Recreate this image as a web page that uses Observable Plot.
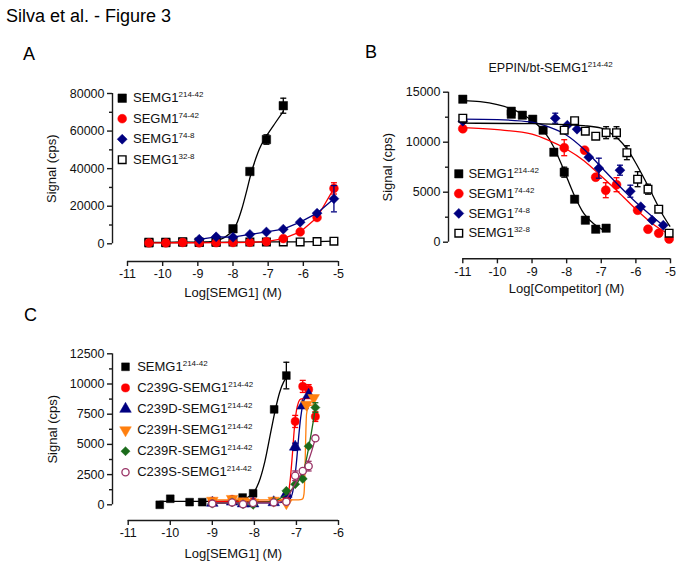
<!DOCTYPE html>
<html><head><meta charset="utf-8">
<script src="https://cdn.jsdelivr.net/npm/d3@7"></script>
<script src="https://cdn.jsdelivr.net/npm/@observablehq/plot@0.6"></script>
<style>
body{margin:0;background:#fff;font-family:'Liberation Sans',Arial,sans-serif;color:#000;}
#fig{position:relative;width:683px;height:566px;overflow:hidden;background:#fff;}
.panel{position:absolute;}
.lbl{position:absolute;font-size:18px;line-height:18px;white-space:nowrap;}
</style></head><body>
<div id="fig">
  <div class="lbl" style="left:6px;top:7px;">Silva et al. - Figure 3</div>
  <div class="lbl" style="left:23px;top:45px;">A</div>
  <div class="lbl" style="left:365px;top:43px;">B</div>
  <div class="lbl" style="left:24px;top:306px;">C</div>
  <div class="panel" id="pA" style="left:0px;top:60px;"></div>
  <div class="panel" id="pB" style="left:340px;top:40px;"></div>
  <div class="panel" id="pC" style="left:0px;top:330px;"></div>
</div>
<script>
// ================= DATA =================
// ---- Panel A : binding, Log[SEMG1] (M) vs Signal (cps)
const aX = [-10.39, -9.91, -9.43, -8.96, -8.48, -8.0, -7.52, -7.05, -6.57, -6.09, -5.61, -5.13];
const aSemg1_214_42 = [500, 600, 1000, 800, 1000, 8000, 38500, 55500, 73500];
const aSemg1_214_42Err = [0, 0, 0, 0, 0, 0, 1500, 2500, 4000];
const aSegm1_74_42 = [500, 500, 700, 500, 600, 700, 800, 1200, 2800, 6300, 14000, 29500];
const aSegm1_74_42Err = [0, 0, 0, 0, 0, 0, 0, 0, 0, 0, 0, 3000];
const aSemg1_74_8X = [-8.96, -8.48, -8.0, -7.52, -7.05, -6.57, -6.09, -5.61, -5.13];
const aSemg1_74_8 = [2400, 3700, 3500, 5000, 6300, 7800, 11500, 16300, 24000];
const aSemg1_74_8Err = [0, 0, 0, 0, 0, 0, 0, 0, 7000];
const aSemg1_32_8 = [800, 800, 1000, 800, 800, 900, 900, 1000, 1000, 1000, 1200, 1400];
const aFitX = [-10.39, -9.5, -9.0, -8.75, -8.5, -8.25, -8.1, -8.0, -7.9, -7.75, -7.6, -7.5, -7.35, -7.25, -7.1, -7.0, -6.8, -6.57];
const aFitSemg1_214_42 = [600, 650, 750, 1000, 1600, 3300, 5300, 7300, 10500, 18500, 29000, 36500, 45500, 50500, 55800, 58800, 64300, 70500];
const aTicksX = [-11, -10, -9, -8, -7, -6, -5];
const aTicksY = [0, 20000, 40000, 60000, 80000];
const aMinorY = [10000, 30000, 50000, 70000];

// ---- Panel B : competition, Log[Competitor] (M) vs Signal (cps)
const bSemg1_214_42X = [-11, -9.6, -9.6, -9.28, -8.98, -8.68, -8.37, -8.07, -7.77, -7.46, -7.16, -6.86];
const bSemg1_214_42 = [14300, 13100, 12800, 12700, 12300, 11200, 9000, 7000, 4300, 2200, 1300, 1400];
const bSemg1_214_42Err = [0, 0, 0, 0, 0, 0, 0, 500, 0, 0, 0, 0];
const bSegm1_74_42X = [-11, -8.07, -7.48, -7.16, -6.87, -6.56, -5.95, -5.65, -5.34, -5.04];
const bSegm1_74_42 = [11350, 9450, 9200, 6500, 5200, 5750, 3200, 1300, 900, 320];
const bSegm1_74_42Err = [0, 800, 0, 0, 750, 700, 0, 0, 0, 0];
const bSemg1_74_8X = [-11, -8.33, -7.98, -7.7, -7.36, -7.07, -6.46, -6.16, -5.86, -5.53, -5.21];
const bSemg1_74_8 = [12100, 12400, 11700, 11300, 8500, 7400, 7200, 5100, 3550, 2200, 1700];
const bSemg1_74_8Err = [0, 500, 0, 0, 0, 1000, 500, 600, 0, 0, 0];
const bSemg1_32_8X = [-11, -8.07, -7.77, -7.46, -7.16, -6.86, -6.56, -6.26, -5.95, -5.65, -5.34, -5.04];
const bSemg1_32_8 = [12400, 11200, 12150, 11100, 10600, 10950, 10950, 8950, 6300, 5300, 3300, 900];
const bSemg1_32_8Err = [0, 0, 0, 0, 0, 600, 600, 700, 750, 500, 0, 0];
const bFit214X = [-11, -10.5, -10, -9.5, -9.14, -8.9, -8.66, -8.37, -8.08, -7.8, -7.5, -7.22, -6.9];
const bFit214 = [14150, 14050, 13750, 13200, 12500, 11900, 11100, 9500, 7200, 4850, 2850, 1850, 1150];
const bFit7442X = [-11, -10, -9, -8.5, -8, -7.5, -7, -6.5, -6, -5.5, -5.05];
const bFit7442 = [11450, 11250, 10800, 10150, 9300, 8150, 6600, 5000, 3300, 1800, 800];
const bFit748X = [-11, -10, -9, -8.5, -8, -7.5, -7, -6.5, -6, -5.5, -5.15];
const bFit748 = [12300, 12250, 12000, 11500, 10700, 9300, 7500, 5700, 4000, 2500, 1500];
const bFit328X = [-11, -9, -8, -7.5, -7, -6.75, -6.5, -6.25, -6, -5.75, -5.5, -5.25, -5.02];
const bFit328 = [11900, 11850, 11750, 11650, 11400, 10950, 10300, 9300, 7900, 6300, 4600, 2900, 1600];
const bTicksX = [-11, -10, -9, -8, -7, -6, -5];
const bTicksY = [0, 5000, 10000, 15000];
const bMinorY = [2500, 7500, 12500];

// ---- Panel C : mutants, Log[SEMG1] (M) vs Signal (cps)
const cSemg1X = [-10.25, -10.0, -9.54, -9.24, -8.28, -8.03, -7.53, -7.24];
const cSemg1 = [0, 500, 220, 220, 600, 950, 7900, 10700];
const cSemg1Err = [0, 0, 0, 0, 0, 0, 0, 1100];
const cMutX = [-9.0, -8.53, -8.27, -8.03, -7.54, -7.24, -7.03, -6.85, -6.71, -6.55];
const cC239G = [300, 450, 200, 250, 300, 700, 6900, 9800, 9550, 7300];
const cC239GErr = [0, 150, 0, 0, 0, 0, 500, 500, 400, 400];
const cC239D = [150, 250, 100, 100, 200, 900, 4800, 8200, 9100];
const cC239DErr = [0, 0, 0, 0, 0, 0, 300, 0, 0];
const cC239HX = [-9.0, -8.53, -8.27, -8.03, -7.54, -7.24, -6.76, -6.59];
const cC239H = [350, 500, 300, 200, 350, 150, 8300, 8850];
const cC239HErr = [0, 0, 0, 0, 0, 0, 0, 0];
const cC239R = [100, 200, 50, 0, 250, 1150, 1700, 2150, 4850, 8050];
const cC239RErr = [0, 0, 0, 0, 0, 0, 0, 0, 0, 400];
const cC239S = [100, 200, 50, 150, 200, 250, 2400, 2800, 3200, 5500];
const cC239SErr = [0, 0, 0, 0, 0, 0, 400, 0, 400, 0];
const cFitSemg1X = [-10.25, -9.5, -9.0, -8.5, -8.25, -8.1, -8.0, -7.9, -7.75, -7.6, -7.5, -7.4, -7.3, -7.24];
const cFitSemg1 = [280, 280, 290, 330, 480, 750, 1100, 1800, 3600, 6200, 7900, 9300, 10200, 10500];
const cFitGX = [-9.0, -7.6, -7.3, -7.2, -7.15, -7.1, -7.05, -7.0, -6.95, -6.9, -6.8, -6.55];
const cFitG = [280, 290, 400, 900, 2000, 4000, 6300, 7800, 8500, 8750, 8800, 8800];
const cFitDX = [-9.0, -7.5, -7.2, -7.1, -7.0, -6.95, -6.9, -6.85, -6.8, -6.7];
const cFitD = [150, 160, 300, 900, 3500, 5500, 7200, 8300, 8800, 9000];
const cFitHX = [-9.0, -7.0, -6.9, -6.85, -6.82, -6.8, -6.78, -6.76, -6.7, -6.55];
const cFitH = [400, 400, 420, 500, 900, 2500, 5500, 7500, 8200, 8300];
const cFitRX = [-9.0, -7.6, -7.4, -7.2, -7.0, -6.9, -6.8, -6.7, -6.6, -6.55];
const cFitR = [150, 250, 500, 1000, 1700, 2300, 3200, 4900, 6900, 8000];
const cFitSX = [-9.0, -7.5, -7.3, -7.2, -7.1, -7.0, -6.9, -6.8, -6.7, -6.55];
const cFitS = [150, 170, 350, 700, 1300, 1900, 2500, 3100, 3800, 5500];
const cTicksX = [-11, -10, -9, -8, -7, -6];
const cTicksY = [0, 2500, 5000, 7500, 10000, 12500];
const cMinorY = [1250, 3750, 6250, 8750, 11250];

// ================= HELPERS =================
const rows = (xs, ys, es) => ys.map((y, i) => ({x: xs[i], y, e: es ? es[i] : 0}));
const capSymbol = {draw(ctx, size) { const w = Math.sqrt(size / Math.PI); ctx.moveTo(-w, 0); ctx.lineTo(w, 0); }};
const RED = "#ff0000", NAVY = "#000080", ORANGE = "#ff7f0e", GREEN = "#1b6b1b", PLUM = "#993366", BLACK = "#000";
const AX = "#1a1a1a";

function panel(p) {
  const marks = [
    Plot.ruleX([p.xDomain[0]], {y1: p.yDomain[0], y2: p.yDomain[1], dx: p.yAxisDx, stroke: AX, strokeWidth: 1.4}),
    Plot.ruleY([p.yDomain[0]], {x1: p.xDomain[0], x2: p.xDomain[1], dy: p.xAxisDy, stroke: AX, strokeWidth: 1.4}),
    Plot.axisY({ticks: p.yTicks, anchor: "left", dx: p.yAxisDx, tickSize: 5, tickPadding: 3, tickFormat: d => String(d), label: null, stroke: AX, strokeWidth: 1.4}),
    Plot.axisY({ticks: p.yMinor, anchor: "left", dx: p.yAxisDx, tickSize: 3, tickFormat: () => "", label: null, stroke: AX, strokeWidth: 1.4}),
    Plot.axisX({ticks: p.xTicks, anchor: "bottom", dy: p.xAxisDy, tickSize: 5, tickPadding: 3, tickFormat: d => String(d), label: null, stroke: AX, strokeWidth: 1.4}),
    Plot.text([p.xLabel], {frameAnchor: "bottom", dy: p.xLabelDy, lineAnchor: "middle", textAnchor: "middle", fontSize: 13}),
    Plot.text([p.yLabel], {frameAnchor: "left", dx: p.yLabelDx, rotate: -90, lineAnchor: "middle", textAnchor: "middle", fontSize: 13})
  ];
  if (p.title) marks.push(Plot.text([p.title], {frameAnchor: "top", dx: p.titleDx, dy: p.titleDy, lineAnchor: "middle", textAnchor: "middle", fontSize: 12.5}));
  for (const i of p.drawOrder) {
    const s = p.series[i];
    if (s.fit) marks.push(Plot.line(s.fit, {x: "x", y: "y", stroke: s.color, strokeWidth: 1.3, curve: "monotone-x"}));
    if (s.connect) marks.push(Plot.line(s.pts, {x: "x", y: "y", stroke: s.color, strokeWidth: 1.3}));
    const ep = s.pts.filter(d => d.e > 0);
    if (ep.length) {
      marks.push(Plot.ruleX(ep, {x: "x", y1: d => d.y - d.e, y2: d => d.y + d.e, stroke: s.color, strokeWidth: 1.3}));
      marks.push(Plot.dot(ep, {x: "x", y: d => d.y + d.e, symbol: capSymbol, r: 3, fill: "none", stroke: s.color, strokeWidth: 1.3}));
      marks.push(Plot.dot(ep, {x: "x", y: d => d.y - d.e, symbol: capSymbol, r: 3, fill: "none", stroke: s.color, strokeWidth: 1.3}));
    }
    marks.push(Plot.dot(s.pts, {x: "x", y: "y", symbol: s.symbol, r: s.r, fill: s.fill, stroke: s.color, strokeWidth: s.sw, rotate: s.rotate || 0}));
  }
  p.series.forEach((s, i) => {
    const dy = p.leg.dy + i * p.leg.step;
    marks.push(Plot.dot([s], {frameAnchor: "top-left", dx: p.leg.dx, dy, symbol: s.symbol, r: s.r, fill: s.fill, stroke: s.color, strokeWidth: s.sw, rotate: s.rotate || 0}));
    marks.push(Plot.text([s], {frameAnchor: "top-left", dx: p.leg.tx, dy, text: d => d.label, textAnchor: "start", lineAnchor: "middle", fontSize: 13}));
  });
  const svg = Plot.plot({
    width: p.width, height: p.height,
    marginLeft: p.ml, marginRight: p.mr, marginTop: p.mt, marginBottom: p.mb,
    x: {domain: p.xDomain}, y: {domain: p.yDomain},
    style: {fontFamily: "'Liberation Sans', Arial, sans-serif", fontSize: "12.5px", color: "#111", background: "none", overflow: "visible"},
    marks
  });
  d3.select(svg).selectAll("text").each(function() {
    const t = this.textContent;
    if (!t.includes("^")) return;
    const [base, sup] = t.split("^");
    const el = d3.select(this);
    el.text(base);
    el.append("tspan").attr("dy", -5).attr("font-size", "8px").text(sup);
  });
  return svg;
}

// ================= PANELS =================
const seriesA = [
  {label: "SEMG1^214-42", pts: rows(aX, aSemg1_214_42, aSemg1_214_42Err), fit: rows(aFitX, aFitSemg1_214_42), color: BLACK, symbol: "square", r: 4.8, fill: BLACK, sw: 0.5},
  {label: "SEGM1^74-42", pts: rows(aX, aSegm1_74_42, aSegm1_74_42Err), connect: true, color: RED, symbol: "circle", r: 4.4, fill: RED, sw: 0.5},
  {label: "SEMG1^74-8", pts: rows(aSemg1_74_8X, aSemg1_74_8, aSemg1_74_8Err), connect: true, color: NAVY, symbol: "diamond2", r: 4.5, fill: NAVY, sw: 0.5},
  {label: "SEMG1^32-8", pts: rows(aX, aSemg1_32_8), connect: true, color: BLACK, symbol: "square", r: 4.3, fill: "white", sw: 1.4}
];
document.getElementById("pA").append(panel({
  width: 345, height: 245, ml: 127, mr: 7, mt: 33, mb: 61.7,
  xDomain: [-11, -5], yDomain: [0, 80000], xTicks: aTicksX, yTicks: aTicksY, yMinor: aMinorY,
  yAxisDx: -15, xAxisDy: 17.7, xLabel: "Log[SEMG1] (M)", xLabelDy: 48.7, yLabel: "Signal (cps)", yLabelDx: -76,
  series: seriesA, drawOrder: [0, 3, 1, 2],
  leg: {dx: -5.3, dy: 4.7, step: 20.5, tx: 5.5}
}));

const seriesB = [
  {label: "SEMG1^214-42", pts: rows(bSemg1_214_42X, bSemg1_214_42, bSemg1_214_42Err), fit: rows(bFit214X, bFit214), color: BLACK, symbol: "square", r: 4.7, fill: BLACK, sw: 0.5},
  {label: "SEGM1^74-42", pts: rows(bSegm1_74_42X, bSegm1_74_42, bSegm1_74_42Err), fit: rows(bFit7442X, bFit7442), color: RED, symbol: "circle", r: 4.5, fill: RED, sw: 0.5},
  {label: "SEMG1^74-8", pts: rows(bSemg1_74_8X, bSemg1_74_8, bSemg1_74_8Err), fit: rows(bFit748X, bFit748), color: NAVY, symbol: "diamond2", r: 4.5, fill: NAVY, sw: 0.5},
  {label: "SEMG1^32-8", pts: rows(bSemg1_32_8X, bSemg1_32_8, bSemg1_32_8Err), fit: rows(bFit328X, bFit328), color: BLACK, symbol: "square", r: 4.3, fill: "white", sw: 1.4}
];
document.getElementById("pB").append(panel({
  width: 343, height: 260, ml: 122.3, mr: 13, mt: 51.7, mb: 58.3,
  xDomain: [-11, -5], yDomain: [0, 15000], xTicks: bTicksX, yTicks: bTicksY, yMinor: bMinorY,
  yAxisDx: -14.3, xAxisDy: 16.6, xLabel: "Log[Competitor] (M)", xLabelDy: 46.3, yLabel: "Signal (cps)", yLabelDx: -74.8,
  title: "EPPIN/bt-SEMG1^214-42", titleDx: -16, titleDy: -24.7,
  series: seriesB, drawOrder: [0, 1, 2, 3],
  leg: {dx: -4, dy: 81.6, step: 19.8, tx: 5.6}
}));

const seriesC = [
  {label: "SEMG1^214-42", pts: rows(cSemg1X, cSemg1, cSemg1Err), fit: rows(cFitSemg1X, cFitSemg1), color: BLACK, symbol: "square", r: 4.4, fill: BLACK, sw: 0.5},
  {label: "C239G-SEMG1^214-42", pts: rows(cMutX, cC239G, cC239GErr), fit: rows(cFitGX, cFitG), color: RED, symbol: "circle", r: 4.1, fill: RED, sw: 0.5},
  {label: "C239D-SEMG1^214-42", pts: rows(cMutX, cC239D, cC239DErr), fit: rows(cFitDX, cFitD), color: NAVY, symbol: "triangle", r: 4.3, fill: NAVY, sw: 0.5},
  {label: "C239H-SEMG1^214-42", pts: rows(cC239HX, cC239H, cC239HErr), fit: rows(cFitHX, cFitH), color: ORANGE, symbol: "triangle", rotate: 180, r: 4.3, fill: ORANGE, sw: 0.5},
  {label: "C239R-SEMG1^214-42", pts: rows(cMutX, cC239R, cC239RErr), fit: rows(cFitRX, cFitR), color: GREEN, symbol: "diamond2", r: 4.1, fill: GREEN, sw: 0.5},
  {label: "C239S-SEMG1^214-42", pts: rows(cMutX, cC239S, cC239SErr), fit: rows(cFitSX, cFitS), color: PLUM, symbol: "circle", r: 3.6, fill: "white", sw: 1.3}
];
document.getElementById("pC").append(panel({
  width: 345, height: 236, ml: 127.7, mr: 7, mt: 23.3, mb: 61.7,
  xDomain: [-11, -6], yDomain: [0, 12500], xTicks: cTicksX, yTicks: cTicksY, yMinor: cMinorY,
  yAxisDx: -15.7, xAxisDy: 15.7, xLabel: "Log[SEMG1] (M)", xLabelDy: 48.7, yLabel: "Signal (cps)", yLabelDx: -75.7,
  series: seriesC, drawOrder: [0, 1, 2, 3, 4, 5],
  leg: {dx: -2.7, dy: 13, step: 21.1, tx: 9}
}));
</script>
</body></html>
